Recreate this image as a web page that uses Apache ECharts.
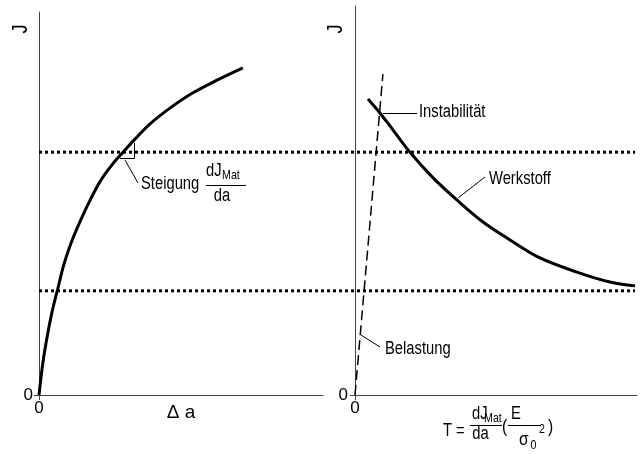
<!DOCTYPE html>
<html>
<head>
<meta charset="utf-8">
<script src="https://cdn.jsdelivr.net/npm/echarts@6/dist/echarts.min.js"></script>
<style>
  html, body { margin: 0; padding: 0; background: #fff; }
  #chart { width: 643px; height: 454px; }
</style>
</head>
<body>
<div id="chart"></div>
<script>
// Crack growth resistance curve J(Δa)
const deltaA = [0, 0.14, 0.28, 0.46, 0.67, 0.88, 1.13, 1.44, 1.80, 2.18, 2.57, 2.96, 3.38, 3.91, 4.61, 5.42, 6.27, 7.18];
const jResistance = [0, 8.6, 14.9, 21.7, 28.0, 34.2, 39.7, 45.2, 50.9, 56.1, 60.1, 63.4, 66.8, 70.8, 74.9, 78.9, 82.2, 85.4];

// Material curve J(T)
const tearingMaterial = [0.46, 0.89, 1.35, 1.95, 2.77, 3.62, 4.54, 5.50, 6.56, 7.87, 9.04, 9.93];
const jMaterial = [77.3, 73.6, 69.2, 63.4, 56.7, 50.9, 45.2, 40.5, 35.8, 32.1, 29.5, 28.5];

// Loading line J(T), straight from the origin
const tearingLoad = [0, 0.99];
const jLoad = [0, 83.8];

// Two reference J levels, drawn across both panels
const jLevels = [63.4, 27.2];

// Axis ranges
const deltaAMax = 10;
const tearingMax = 10;
const jMaxLeft = 100;
const jMaxRight = 101.6;

const FONT = '"Liberation Sans", Arial, sans-serif';
const NARROW = 0.82; // horizontal squeeze for a condensed look
const AXIS_COLOR = '#444';

const zip = (xs, ys) => xs.map((x, i) => [x, ys[i]]);

function valueAxis(gridIndex, max, extra) {
  return Object.assign({
    type: 'value',
    gridIndex: gridIndex,
    min: 0,
    max: max,
    axisLine: { show: true, onZero: false, lineStyle: { color: AXIS_COLOR, width: 1 } },
    axisTick: { show: true, customValues: [0], length: 5, lineStyle: { color: AXIS_COLOR } },
    axisLabel: { show: true, customValues: [0], color: '#000', fontSize: 17, fontFamily: FONT },
    splitLine: { show: false }
  }, extra || {});
}

function hiddenAxis(gridIndex, max) {
  return { type: 'value', gridIndex: gridIndex, min: 0, max: max, show: false, splitLine: { show: false } };
}

const option = {
  animation: false,
  backgroundColor: '#fff',
  grid: [
    { left: 39, top: 12, width: 284, height: 383 },
    { left: 355, top: 6, width: 282, height: 389 },
    { left: 39, top: 12, width: 596, height: 383 }
  ],
  xAxis: [
    valueAxis(0, deltaAMax, {
      axisLabel: { show: true, customValues: [0], color: '#000', fontSize: 17, fontFamily: FONT, margin: 5 },
      name: 'Δ a', nameLocation: 'middle', nameGap: 8, nameMoveOverlap: false,
      nameTextStyle: { fontFamily: FONT, fontSize: 19, color: '#000' }
    }),
    valueAxis(1, tearingMax, {
      axisLabel: { show: true, customValues: [0], color: '#000', fontSize: 17, fontFamily: FONT, margin: 5 }
    }),
    hiddenAxis(2, 1)
  ],
  yAxis: [
    valueAxis(0, jMaxLeft, {
      axisLabel: { show: true, customValues: [0], color: '#000', fontSize: 17, fontFamily: FONT, margin: 6 }
    }),
    valueAxis(1, jMaxRight, {
      axisLabel: { show: true, customValues: [0], color: '#000', fontSize: 17, fontFamily: FONT, margin: 7 }
    }),
    hiddenAxis(2, jMaxLeft)
  ],
  series: [
    // dotted J levels
    ...jLevels.map((j) => ({
      type: 'line', xAxisIndex: 2, yAxisIndex: 2, symbol: 'none', silent: true,
      data: [[0, j], [1, j]],
      lineStyle: { color: '#000', width: 3, type: [3, 3] }
    })),
    {
      type: 'line', xAxisIndex: 0, yAxisIndex: 0, symbol: 'none', smooth: 0.35,
      data: zip(deltaA, jResistance),
      lineStyle: { color: '#000', width: 3 }
    },
    {
      type: 'line', xAxisIndex: 1, yAxisIndex: 1, symbol: 'none', smooth: 0.35,
      data: zip(tearingMaterial, jMaterial),
      lineStyle: { color: '#000', width: 3 }
    },
    {
      type: 'line', xAxisIndex: 1, yAxisIndex: 1, symbol: 'none',
      data: zip(tearingLoad, jLoad),
      lineStyle: { color: '#000', width: 1.5, type: [10, 5] }
    }
  ]
};

const chart = echarts.init(document.getElementById('chart'), null, { renderer: 'canvas' });
chart.setOption(option);

// ---- annotations ----
function txt(text, x, y, size, align) {
  return {
    type: 'text', silent: true,
    x: x, y: y, scaleX: NARROW,
    style: {
      text: text, x: 0, y: 0, fill: '#000',
      fontSize: size, fontFamily: FONT,
      align: align || 'left', verticalAlign: 'middle'
    }
  };
}
// vertical axis title, reading bottom-to-top
function axisTitle(text, x, y) {
  return {
    type: 'text', silent: true,
    x: x, y: y, rotation: Math.PI / 2, scaleX: NARROW,
    style: {
      text: text, x: 0, y: 0, fill: '#000',
      fontSize: 22, fontFamily: FONT,
      align: 'center', verticalAlign: 'middle'
    }
  };
}
function seg(x1, y1, x2, y2, w) {
  return {
    type: 'line', silent: true,
    shape: { x1: x1, y1: y1, x2: x2, y2: y2 },
    style: { stroke: '#000', lineWidth: w || 1 }
  };
}

const graphics = [
  axisTitle('J', 21, 29),
  axisTitle('J', 336, 29),

  // slope triangle and its label
  { type: 'polyline', silent: true, shape: { points: [[120, 158.5], [134.5, 158.5], [134.5, 143]] }, style: { stroke: '#000', lineWidth: 1, fill: null } },
  seg(125, 160, 138, 183),
  txt('Steigung', 141, 184, 18),
  txt('dJ', 206, 171, 18),
  txt('Mat', 222, 175.5, 13),
  seg(206, 185.5, 246, 185.5),
  txt('da', 222, 196, 18, 'center'),

  // right-panel labels
  seg(383, 113.5, 417, 113.5),
  txt('Instabilität', 419, 112, 18),
  seg(458, 198, 485, 177),
  txt('Werkstoff', 489, 179, 18),
  seg(361, 335, 380, 347),
  txt('Belastung', 385, 349, 18),

  // T = dJ_Mat/da (E/σ0²)
  txt('T =', 443, 431, 18),
  txt('dJ', 472, 414, 18),
  txt('Mat', 484, 418, 13),
  seg(470, 425.5, 502, 425.5),
  txt('da', 480.5, 434, 18, 'center'),
  txt('(', 502, 427, 19),
  txt('E', 516, 414.5, 18, 'center'),
  seg(508, 425.5, 541, 425.5),
  txt('σ', 519, 440, 19),
  txt('0', 530.5, 445, 13),
  txt('2', 539, 429.5, 13),
  txt(')', 548, 427, 19)
];

chart.setOption({ graphic: graphics });
</script>
</body>
</html>
